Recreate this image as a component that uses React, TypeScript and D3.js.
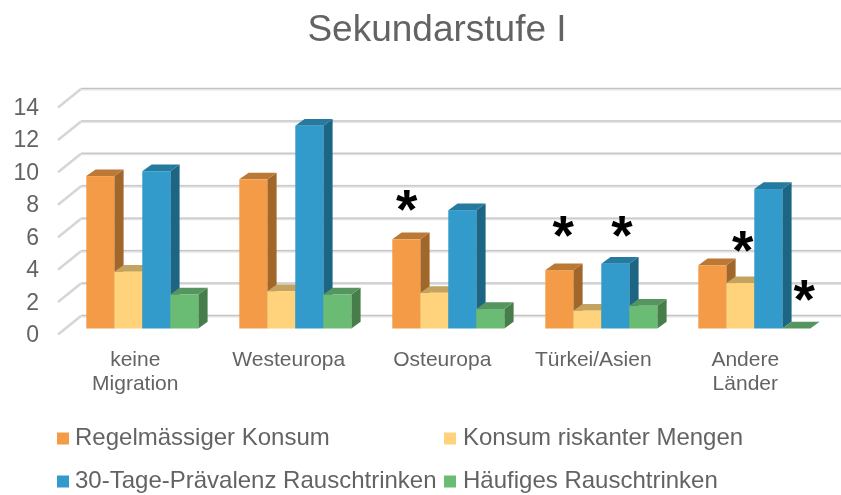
import React from "react";
import * as d3 from "d3";

const categories = [["keine", "Migration"], ["Westeuropa"], ["Osteuropa"], ["Türkei/Asien"], ["Andere", "Länder"]];
const seriesNames = ["Regelmässiger Konsum", "Konsum riskanter Mengen", "30-Tage-Prävalenz Rauschtrinken", "Häufiges Rauschtrinken"];
const regular = [9.4, 9.2, 5.5, 3.6, 3.9];
const risky = [3.5, 2.3, 2.2, 1.1, 2.8];
const binge30 = [9.7, 12.5, 7.3, 4.0, 8.6];
const frequent = [2.1, 2.1, 1.2, 1.4, 0];
const ticks = [0, 2, 4, 6, 8, 10, 12, 14];
const series = [regular, risky, binge30, frequent];
const front = ["#F39B47", "#FFD37B", "#309BCB", "#6BBC74"];
const side = ["#A0662B", "#A88B50", "#1F6585", "#477C4C"];
const top = ["#BC7936", "#C4A361", "#257A9F", "#559560"];
// asterisks: [group, bar, x shift from bar centre, baseline offset above the bar top]
const stars: [number, number, number, number][] = [[2, 0, 0.4, 11], [3, 0, 4, 16], [3, 2, 6.7, 9.6], [4, 1, 2.4, 14], [4, 3, 8, 10.5]];
const labelShift = [49, 49.5, 50, 48, 47];

const W = 841, H = 495;
const DX = 9.3, DY = 6.7;
const barW = 28;
const y = d3.scaleLinear().domain([0, 14]).range([328.5, 101.5]);
const groupX = d3.scaleLinear().domain([0, 4]).range([86.3, 698.3]);
const gridBack = (v: number) => y(v) - 12.5;
const font = "'Liberation Sans', Arial, sans-serif";
const textColor = "#646464";

export default function App() {
  const legendPos = [[57, 75, 445], [444, 463, 445], [57, 75, 488], [444, 463, 488]];
  return (
    <svg width={W} height={H} style={{ position: "absolute", left: 0, top: 0, background: "#fff" }} fontFamily={font}>
      <defs>
        <filter id="soft" x="-5%" y="-5%" width="110%" height="110%">
          <feGaussianBlur stdDeviation="0.45" />
        </filter>
      </defs>
      <g filter="url(#soft)">
        <text x={437} y={41} fontSize={37} textAnchor="middle" fill={textColor}>Sekundarstufe I</text>
        {ticks.map(t => {
          const yb = gridBack(t);
          return (
            <g key={t}>
              <path d={`M58,${yb + 18.5}L81,${yb}`} fill="none" stroke="#D6D6D6" strokeWidth={2.6} />
              <path d={`M81,${yb}L${W},${yb}`} fill="none" stroke="#E4E4E4" strokeWidth={3} />
              <path d={`M81,${yb - 0.5}L${W},${yb - 0.5}`} fill="none" stroke="#C2C2C2" strokeWidth={1} />
              <text x={39} y={yb + 26} fontSize={23} textAnchor="end" fill={textColor}>{t}</text>
            </g>
          );
        })}
        {categories.map((c, i) => (
          <g key={i}>
            {series.map((vals, s) => {
              const xl = groupX(i) + s * barW;
              const yt = y(vals[i]);
              const yb = y(0);
              const xr = xl + barW;
              return (
                <g key={s}>
                  <path d={`M${xr},${yt}L${xr + DX},${yt - DY}L${xr + DX},${yb - DY}L${xr},${yb}Z`} fill={side[s]} />
                  <path d={`M${xl},${yt}L${xl + DX},${yt - DY}L${xr + DX},${yt - DY}L${xr},${yt}Z`} fill={top[s]} />
                  {vals[i] > 0 && <rect x={xl} y={yt} width={barW} height={yb - yt} fill={front[s]} />}
                </g>
              );
            })}
            <text fontSize={21} textAnchor="middle" fill={textColor}>
              {c.map((l, k) => <tspan key={k} x={groupX(i) + labelShift[i]} y={366 + k * 24}>{l}</tspan>)}
            </text>
          </g>
        ))}
        {stars.map(([g, s, dx, off], k) => (
          <text key={k} x={groupX(g) + s * barW + barW / 2 + dx} y={y(series[s][g]) - off} fontSize={55} fontWeight="bold" textAnchor="middle" fill="#000">*</text>
        ))}
        {seriesNames.map((n, i) => {
          const [sx, tx, by] = legendPos[i];
          return (
            <g key={n}>
              <rect x={sx} y={by - 12.5} width={12} height={12} fill={front[i]} />
              <text x={tx} y={by} fontSize={24} fill={textColor}>{n}</text>
            </g>
          );
        })}
      </g>
    </svg>
  );
}
